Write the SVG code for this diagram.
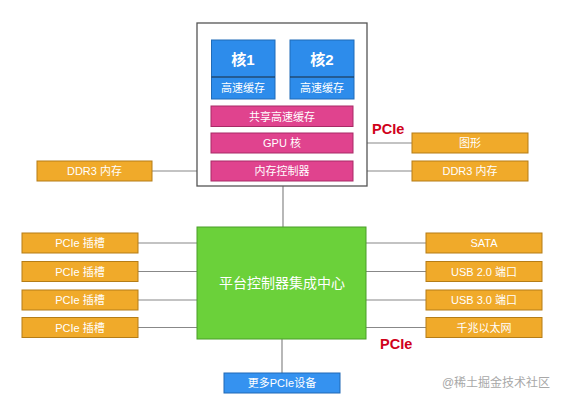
<svg xmlns="http://www.w3.org/2000/svg" width="562" height="402" viewBox="0 0 562 402">
<style>
text{font-family:"Liberation Sans","Noto Sans CJK SC",sans-serif;fill:#fff;text-anchor:middle;dominant-baseline:central}
.core{fill:#2d8ceb;stroke:#1f6bb8;stroke-width:1}
.pink{fill:#e0438e;stroke:#a82a66;stroke-width:1}
.org{fill:#f0aa2a;stroke:#b57d17;stroke-width:1}
.conn line{stroke:#888;stroke-width:1.2}
.s{font-size:11px}
.pcie{fill:#d0021b;font-weight:bold;font-size:14.5px;text-anchor:start}
</style>
<rect width="562" height="402" fill="#fff"/>
<g class="conn">
<line x1="152" y1="171" x2="211" y2="171"/>
<line x1="353" y1="171" x2="412" y2="171"/>
<line x1="353" y1="143" x2="412" y2="143"/>
<line x1="283" y1="186" x2="283" y2="227"/>
<line x1="138" y1="243" x2="197" y2="243"/>
<line x1="138" y1="271.5" x2="197" y2="271.5"/>
<line x1="138" y1="300" x2="197" y2="300"/>
<line x1="138" y1="327.5" x2="197" y2="327.5"/>
<line x1="366" y1="243" x2="426" y2="243"/>
<line x1="366" y1="271.5" x2="426" y2="271.5"/>
<line x1="366" y1="300" x2="426" y2="300"/>
<line x1="366" y1="327.5" x2="426" y2="327.5"/>
<line x1="282" y1="339" x2="282" y2="373"/>
</g>
<g id="cpu">
<rect x="197" y="23" width="170" height="163" fill="#fff" stroke="#555" stroke-width="1.3"/>
</g>
<g id="core1">
<rect class="core" x="211.5" y="40" width="63.5" height="59"/>
<line x1="211.5" y1="77" x2="275" y2="77" stroke="#1a2a3a" stroke-width="1"/>
<text x="243" y="59" style="font-size:15px;font-weight:bold">核1</text>
<text x="243" y="88" class="s">高速缓存</text>
</g>
<g id="core2">
<rect class="core" x="290" y="40" width="64" height="59"/>
<line x1="290" y1="77" x2="354" y2="77" stroke="#1a2a3a" stroke-width="1"/>
<text x="322" y="59" style="font-size:15px;font-weight:bold">核2</text>
<text x="322" y="88" class="s">高速缓存</text>
</g>
<g id="shared-cache">
<rect class="pink" x="211" y="106" width="142" height="20.5"/>
<text x="282" y="116.5" class="s">共享高速缓存</text>
</g>
<g id="gpu">
<rect class="pink" x="211" y="133" width="142" height="20"/>
<text x="282" y="143" class="s">GPU 核</text>
</g>
<g id="memctrl">
<rect class="pink" x="211" y="161" width="142" height="20"/>
<text x="282" y="171" class="s">内存控制器</text>
</g>
<g id="ddr3-left">
<rect class="org" x="37" y="161" width="115" height="20"/>
<text x="94.5" y="171" class="s">DDR3 内存</text>
</g>
<g id="graphics">
<rect class="org" x="412" y="133" width="116" height="20"/>
<text x="470" y="143" class="s">图形</text>
</g>
<g id="ddr3-right">
<rect class="org" x="412" y="161" width="116" height="20"/>
<text x="470" y="171" class="s">DDR3 内存</text>
</g>
<text class="pcie" x="372" y="129">PCIe</text>
<g id="pch">
<rect x="197" y="227" width="169" height="112" fill="#6bd13a" stroke="#4a9e28" stroke-width="1"/>
<text x="282" y="283" style="font-size:14px">平台控制器集成中心</text>
</g>
<g id="pcie1"><rect class="org" x="22" y="233" width="116" height="20"/><text x="80" y="243" class="s">PCIe 插槽</text></g>
<g id="pcie2"><rect class="org" x="22" y="261.5" width="116" height="20"/><text x="80" y="271.5" class="s">PCIe 插槽</text></g>
<g id="pcie3"><rect class="org" x="22" y="290" width="116" height="20"/><text x="80" y="300" class="s">PCIe 插槽</text></g>
<g id="pcie4"><rect class="org" x="22" y="317.5" width="116" height="20"/><text x="80" y="327.5" class="s">PCIe 插槽</text></g>
<g id="sata"><rect class="org" x="426" y="233" width="116" height="20"/><text x="484" y="243" class="s">SATA</text></g>
<g id="usb2"><rect class="org" x="426" y="261.5" width="116" height="20"/><text x="484" y="271.5" class="s">USB 2.0 端口</text></g>
<g id="usb3"><rect class="org" x="426" y="290" width="116" height="20"/><text x="484" y="300" class="s">USB 3.0 端口</text></g>
<g id="gbe"><rect class="org" x="426" y="317.5" width="116" height="20"/><text x="484" y="327.5" class="s">千兆以太网</text></g>
<text class="pcie" x="380" y="344">PCIe</text>
<g id="more-pcie">
<rect x="224" y="373" width="116" height="20" fill="#3592f0" stroke="#2069b5" stroke-width="1"/>
<text x="282" y="383" class="s">更多PCIe设备</text>
</g>
<text x="496" y="383" style="font-size:12px;fill:#a8a8a8">@稀土掘金技术社区</text>
</svg>
